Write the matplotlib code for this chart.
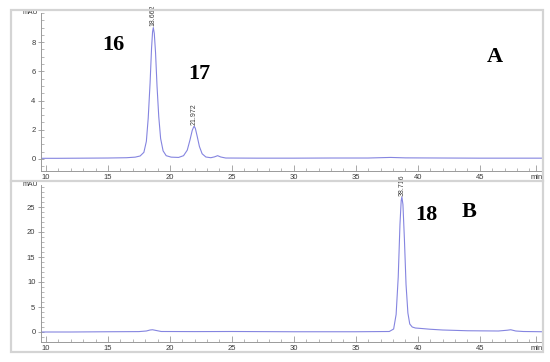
import matplotlib
matplotlib.use("Agg")
import matplotlib.pyplot as plt
from matplotlib.ticker import MultipleLocator, FixedLocator
from matplotlib.patches import Rectangle
from matplotlib.lines import Line2D

# panel A trace (min, mAU)
time_a = [9.6, 11, 13, 15, 16.5, 17.2, 17.6, 17.9, 18.1, 18.25, 18.4, 18.52, 18.6, 18.66,
          18.74, 18.84, 18.96, 19.1, 19.25, 19.45, 19.7, 20.1, 20.7, 21.1, 21.4, 21.62,
          21.8, 21.92, 21.97, 22.05, 22.2, 22.38, 22.6, 22.9, 23.3, 23.6, 23.85, 24.1,
          24.5, 27, 30, 33, 36, 37.8, 39, 42, 45, 48, 50.1]
abs_a = [0.04, 0.04, 0.05, 0.06, 0.08, 0.12, 0.2, 0.45, 1.2, 2.8, 5.2, 7.6, 8.7, 9.0,
         8.6, 7.3, 5.0, 2.9, 1.4, 0.55, 0.22, 0.12, 0.1, 0.22, 0.6, 1.3,
         1.95, 2.2, 2.22, 2.1, 1.55, 0.85, 0.35, 0.13, 0.08, 0.14, 0.22, 0.13,
         0.06, 0.05, 0.05, 0.06, 0.06, 0.1, 0.07, 0.06, 0.05, 0.05, 0.05]

# panel B trace
time_b = [9.6, 12, 15, 17.5, 18.1, 18.4, 18.6, 18.9, 19.3, 22, 25, 30, 35, 37.7,
          38.05, 38.25, 38.42, 38.56, 38.66, 38.716, 38.8, 38.92, 39.05, 39.2, 39.35,
          39.55, 39.8, 40.3, 41, 42, 44, 46.5, 47.2, 47.5, 47.9, 48.5, 50.1]
abs_b = [0.0, 0.0, 0.05, 0.08, 0.2, 0.4, 0.45, 0.3, 0.1, 0.08, 0.1, 0.05, 0.05, 0.1,
         0.6, 3.5, 11.0, 21.5, 26.3, 27.0, 25.5, 18.5, 9.5, 3.8, 1.6,
         1.0, 0.8, 0.7, 0.55, 0.4, 0.25, 0.2, 0.35, 0.45, 0.2, 0.1, 0.05]

peaks_a = [(18.662, 9.0, "18.662"), (21.972, 2.22, "21.972")]
peaks_b = [(38.716, 27.0, "38.716")]

yticks_a = [0, 2, 4, 6, 8]
yticks_b = [0, 5, 10, 15, 20, 25]
xticks = [10, 15, 20, 25, 30, 35, 40, 45]

LINE = "#8585e0"
GREY = "#9a9a9a"
TXT = "#3a3a3a"

fig = plt.figure(figsize=(5.5, 3.62), dpi=100)
fig.patch.set_facecolor("white")

# outer frame and divider
fig.add_artist(Rectangle((11 / 550, 1 - 352 / 362), 532 / 550, 342 / 362,
                         transform=fig.transFigure, fill=False,
                         edgecolor="#d4d4d4", lw=1.6))
fig.add_artist(Line2D([11 / 550, 543 / 550], [1 - 181 / 362] * 2,
                      transform=fig.transFigure, color="#d4d4d4", lw=1.6))

ax_a = fig.add_axes([41 / 550, 1 - 171 / 362, 502 / 550, 158 / 362])
ax_b = fig.add_axes([41 / 550, 1 - 342 / 362, 502 / 550, 157 / 362])


def style(ax, ylim, yticks, yminor):
    ax.set_xlim(9.6, 50.1)
    ax.set_ylim(*ylim)
    for s in ["top", "right"]:
        ax.spines[s].set_visible(False)
    for s in ["left", "bottom"]:
        ax.spines[s].set_color(GREY)
        ax.spines[s].set_linewidth(0.7)
    ax.xaxis.set_minor_locator(MultipleLocator(1))
    ax.yaxis.set_major_locator(FixedLocator(yticks))
    ax.yaxis.set_minor_locator(MultipleLocator(yminor))
    ax.tick_params(axis="x", which="major", direction="in", length=4, width=0.6,
                   color=GREY, labelsize=5.5, labelcolor=TXT, pad=2)
    ax.tick_params(axis="x", which="minor", direction="in", length=2, width=0.5, color=GREY)
    ax.tick_params(axis="y", which="major", direction="inout", length=4, width=0.6,
                   color=GREY, labelsize=5.5, labelcolor=TXT, pad=2)
    ax.tick_params(axis="y", which="minor", direction="in", length=2, width=0.5, color=GREY)
    ax.set_xticks(xticks + [49.55])
    ax.set_xticklabels([str(t) for t in xticks] + ["min"])
    for lab in ax.get_xticklabels() + ax.get_yticklabels():
        lab.set_family("Liberation Sans")
    ax.text(-0.006, 1.0, "mAU", transform=ax.transAxes, ha="right", va="center",
            fontsize=5, color=TXT, family="Liberation Sans")


style(ax_a, (-0.83, 10.0), yticks_a, 0.5)
style(ax_b, (-2.0, 29.4), yticks_b, 1)

ax_a.plot(time_a, abs_a, color=LINE, lw=0.8)
ax_b.plot(time_b, abs_b, color=LINE, lw=0.8)

for ax, peaks, off in [(ax_a, peaks_a, 0.08), (ax_b, peaks_b, 0.3)]:
    for t, h, lab in peaks:
        ax.text(t, h + off, lab, rotation=90, ha="center", va="bottom", fontsize=5,
                color=TXT, family="Liberation Sans", clip_on=False)

big = dict(fontsize=16, fontweight="bold", family="Liberation Serif", color="black",
           ha="center", va="center")
ax_a.text(15.4, 7.8, "16", **big)
ax_a.text(22.4, 5.8, "17", **big)
ax_a.text(46.2, 7.0, "A", **big)
ax_b.text(40.7, 23.5, "18", **big)
ax_b.text(44.1, 24.0, "B", **big)

fig.savefig("out.png", dpi=100, facecolor="white")
